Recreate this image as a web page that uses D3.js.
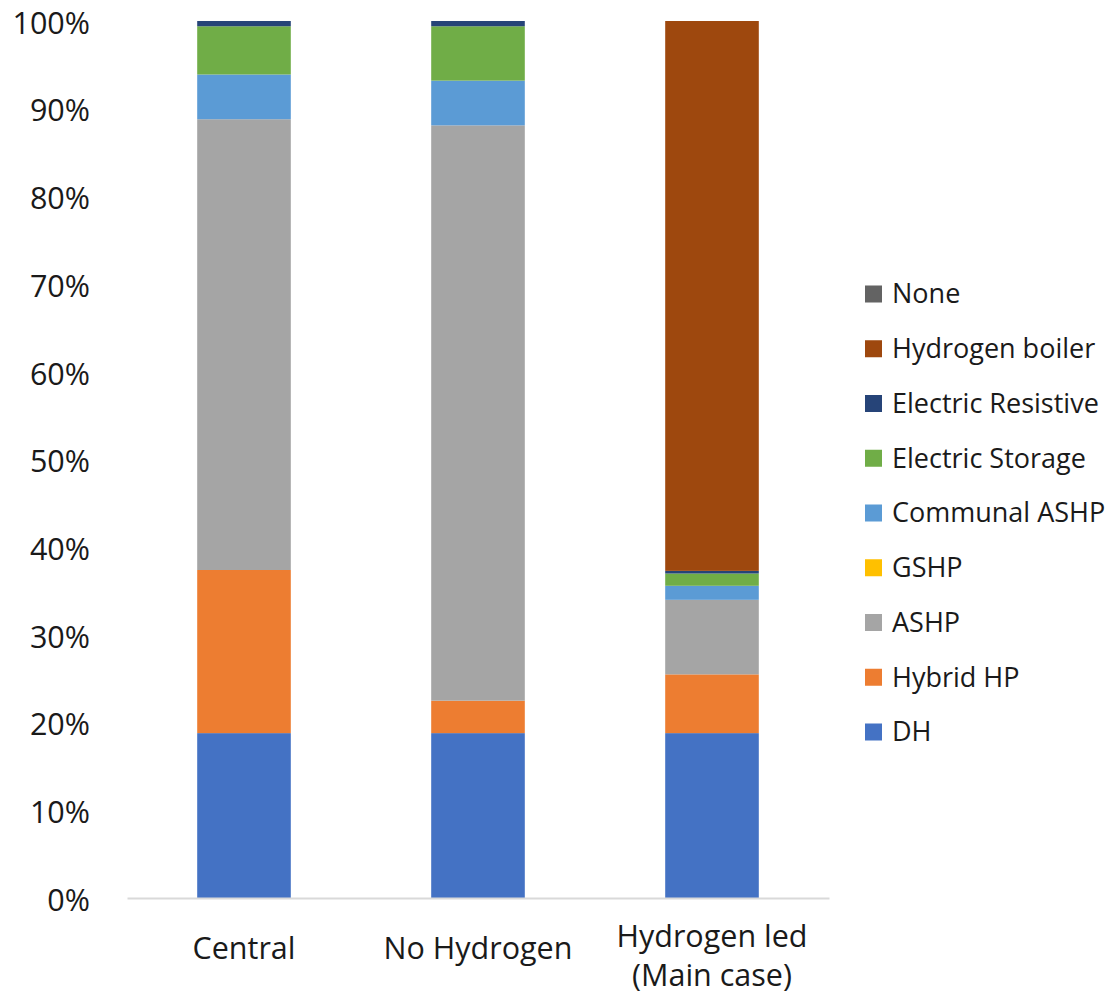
<!DOCTYPE html>
<html>
<head>
<meta charset="utf-8">
<script src="https://cdn.jsdelivr.net/npm/d3@7"></script>
<style>
  html, body { margin: 0; padding: 0; background: #fff; }
  svg { display: block; font-family: "Open Sans", "Noto Sans", sans-serif; }
</style>
</head>
<body>
<svg id="chart" width="1110" height="994"></svg>
<script>
// Scenarios along the x axis
const categories = ["Central", "No Hydrogen", "Hydrogen led\n(Main case)"];

// Heating technology series, stacked bottom to top
const seriesNames = ["DH", "Hybrid HP", "ASHP", "GSHP", "Communal ASHP",
  "Electric Storage", "Electric Resistive", "Hydrogen boiler", "None"];

// Share of homes (%) per scenario, in category order
const dh              = [18.8, 18.8, 18.8];
const hybridHP        = [18.6, 3.7, 6.7];
const ashp            = [51.4, 65.6, 8.5];
const gshp            = [0.0, 0.0, 0.0];
const communalASHP    = [5.1, 5.1, 1.6];
const electricStorage = [5.5, 6.2, 1.4];
const electricResist  = [0.6, 0.6, 0.3];
const hydrogenBoiler  = [0.0, 0.0, 62.7];
const none            = [0.0, 0.0, 0.0];

const yTicks = [0, 10, 20, 30, 40, 50, 60, 70, 80, 90, 100];

const seriesValues = [dh, hybridHP, ashp, gshp, communalASHP,
  electricStorage, electricResist, hydrogenBoiler, none];

const colors = {
  "DH": "#4472C4",
  "Hybrid HP": "#ED7D31",
  "ASHP": "#A5A5A5",
  "GSHP": "#FFC000",
  "Communal ASHP": "#5B9BD5",
  "Electric Storage": "#70AD47",
  "Electric Resistive": "#264478",
  "Hydrogen boiler": "#9E480E",
  "None": "#636363"
};

// Table rows: one per scenario
const rows = categories.map((c, i) => {
  const r = { category: c };
  seriesNames.forEach((s, j) => { r[s] = seriesValues[j][i]; });
  return r;
});

const svg = d3.select("#chart");
const plot = { left: 127, right: 829, top: 21, bottom: 898 };

const x = d3.scaleBand()
  .domain(categories)
  .range([plot.left, plot.right])
  .paddingInner(0.6)
  .paddingOuter(0.3);

const y = d3.scaleLinear()
  .domain([0, 100])
  .range([plot.bottom, plot.top]);

const stack = d3.stack().keys(seriesNames);
const layers = stack(rows);

// Stacked bars
svg.append("g").selectAll("g")
  .data(layers)
  .join("g")
  .attr("fill", d => colors[d.key])
  .selectAll("rect")
  .data(d => d)
  .join("rect")
  .attr("x", d => x(d.data.category))
  .attr("width", x.bandwidth())
  .attr("y", d => y(d[1]))
  .attr("height", d => Math.max(0, y(d[0]) - y(d[1])));

// Y axis labels (no axis line, no ticks)
const yAxis = d3.axisLeft(y)
  .tickValues(yTicks)
  .tickFormat(d => d + "%")
  .tickSize(0)
  .tickPadding(0);

const gy = svg.append("g")
  .attr("transform", "translate(90,0)")
  .call(yAxis);
gy.select(".domain").remove();
gy.selectAll("text")
  .attr("dy", "0.4em")
  .attr("font-size", 30.5)
  .attr("fill", "#1a1a1a")
  .attr("font-family", "'Open Sans', 'Noto Sans', sans-serif");

// X axis baseline
const xAxis = d3.axisBottom(x).tickSize(0).tickFormat("");
const gx = svg.append("g")
  .attr("transform", `translate(0,${plot.bottom})`)
  .call(xAxis);
gx.select(".domain").attr("stroke", "#d9d9d9").attr("stroke-width", 2);

// Category labels (multi-line)
const catLabels = svg.append("g")
  .selectAll("text")
  .data(categories)
  .join("text")
  .attr("x", d => x(d) + x.bandwidth() / 2)
  .attr("y", 959)
  .attr("text-anchor", "middle")
  .attr("font-size", 30.5)
  .attr("fill", "#1a1a1a");

catLabels.each(function (d) {
  const lines = d.split("\n");
  const t = d3.select(this);
  const startY = lines.length > 1 ? 947 : 959;
  lines.forEach((ln, i) => {
    t.append("tspan")
      .attr("x", x(d) + x.bandwidth() / 2)
      .attr("y", startY + i * 39)
      .text(ln);
  });
});

// Legend, top to bottom in reverse stacking order
const legendNames = seriesNames.slice().reverse();
const legend = svg.append("g")
  .selectAll("g")
  .data(legendNames)
  .join("g")
  .attr("transform", (d, i) => `translate(865,${294 + i * 54.75})`);

legend.append("rect")
  .attr("x", 0)
  .attr("y", -8.5)
  .attr("width", 17)
  .attr("height", 17)
  .attr("fill", d => colors[d]);

legend.append("text")
  .attr("x", 27)
  .attr("y", 0)
  .attr("dy", "0.35em")
  .attr("font-size", 27)
  .attr("fill", "#1a1a1a")
  .text(d => d);
</script>
</body>
</html>
